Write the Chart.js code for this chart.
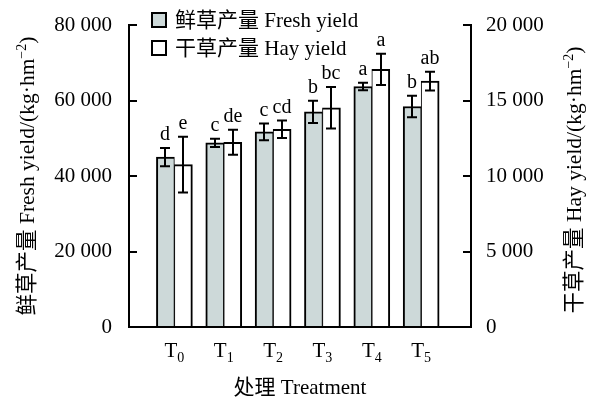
<!DOCTYPE html>
<html>
<head>
<meta charset="utf-8">
<script src="https://cdn.jsdelivr.net/npm/chart.js@4/dist/chart.umd.min.js"></script>
<style>
  body { margin: 0; background: #fff; }
</style>
</head>
<body>
<canvas id="chart" width="593" height="399"></canvas>
<script>
// treatments T0..T5 (subscript digits drawn under the T)
const treatments = ['0', '1', '2', '3', '4', '5']

// fresh yield, left axis (kg/hm2)
const freshYield = [45000, 48800, 51700, 57000, 63700, 58400]
const freshErr = [2400, 1100, 2200, 2950, 970, 2830]
const freshLetters = ['d', 'c', 'c', 'b', 'a', 'b']

// hay yield, right axis (kg/hm2)
const hayYield = [10750, 12230, 13090, 14520, 17060, 16290]
const hayErr = [1850, 830, 580, 1370, 1030, 620]
const hayLetters = ['e', 'de', 'cd', 'bc', 'a', 'ab']

const freshTicks = [0, 20000, 40000, 60000, 80000]
const hayTicks = [0, 5000, 10000, 15000, 20000]

const FONT = '"Liberation Serif", "Noto Sans CJK SC", serif'
const freshColor = '#cdd9d9'

function fmt(v) {
  return String(v).replace(/\B(?=(\d{3})+(?!\d))/g, ' ')
}

// draws pieces of text with their own size / vertical shift, centred on x
function drawRich(ctx, parts, x, y) {
  let w = 0
  parts.forEach(p => {
    ctx.font = p.size + 'px ' + FONT
    p.w = ctx.measureText(p.text).width
    w += p.w
  })
  let cx = x - w / 2
  ctx.textAlign = 'left'
  parts.forEach(p => {
    ctx.font = p.size + 'px ' + FONT
    ctx.fillText(p.text, cx, y + (p.dy || 0))
    cx += p.w
  })
}

const extras = {
  id: 'extras',
  afterDatasetsDraw(chart) {
    const ctx = chart.ctx
    const groups = [
      [0, freshYield, freshErr, freshLetters, chart.scales.y],
      [1, hayYield, hayErr, hayLetters, chart.scales.y1]
    ]
    ctx.save()
    ctx.strokeStyle = '#000'
    ctx.fillStyle = '#000'
    ctx.lineWidth = 2
    groups.forEach(([di, vals, errs, letters, scale]) => {
      chart.getDatasetMeta(di).data.forEach((bar, i) => {
        const x = Math.round(bar.x)
        const top = scale.getPixelForValue(vals[i] + errs[i])
        const bot = scale.getPixelForValue(vals[i] - errs[i])
        ctx.beginPath()
        ctx.moveTo(x, top); ctx.lineTo(x, bot)
        ctx.moveTo(x - 5, top); ctx.lineTo(x + 5, top)
        ctx.moveTo(x - 5, bot); ctx.lineTo(x + 5, bot)
        ctx.stroke()
        ctx.font = '20px ' + FONT
        ctx.textAlign = 'center'
        ctx.textBaseline = 'alphabetic'
        ctx.fillText(letters[i], x, top - 8)
      })
    })
    ctx.restore()
  },
  afterDraw(chart) {
    const ctx = chart.ctx
    const xs = chart.scales.x
    const area = chart.chartArea
    ctx.save()
    ctx.fillStyle = '#000'
    ctx.textBaseline = 'alphabetic'

    // category labels T0..T5
    treatments.forEach((t, i) => {
      drawRich(ctx, [
        { text: 'T', size: 21 },
        { text: t, size: 14, dy: 5 }
      ], xs.getPixelForValue(i), 357)
    })

    // x title
    drawRich(ctx, [{ text: '处理 Treatment', size: 21 }], (area.left + area.right) / 2, 394)

    // y titles, both read bottom to top
    const yTitle = (label, x, y) => {
      ctx.save()
      ctx.translate(x, y)
      ctx.rotate(-Math.PI / 2)
      drawRich(ctx, [
        { text: label + '/(kg·hm', size: 21.5 },
        { text: '−2', size: 14, dy: -8 },
        { text: ')', size: 21.5 }
      ], 0, 0)
      ctx.restore()
    }
    yTitle('鲜草产量 Fresh yield', 34, 176)
    yTitle('干草产量 Hay yield', 581, 180)

    // legend
    const items = [
      { fill: freshColor, text: '鲜草产量 Fresh yield', y: 20 },
      { fill: '#fff', text: '干草产量 Hay yield', y: 48 }
    ]
    items.forEach(it => {
      ctx.fillStyle = it.fill
      ctx.fillRect(152, it.y - 7, 14, 14)
      ctx.strokeStyle = '#000'
      ctx.lineWidth = 2
      ctx.strokeRect(152, it.y - 7, 14, 14)
      ctx.fillStyle = '#000'
      ctx.font = '21px ' + FONT
      ctx.textAlign = 'left'
      ctx.textBaseline = 'middle'
      ctx.fillText(it.text, 175, it.y + 1)
    })
    ctx.restore()
  }
}

const yAxis = (position, ticks, max, padding, width) => ({
  type: 'linear',
  position: position,
  min: 0,
  max: max,
  afterBuildTicks: s => { s.ticks = ticks.map(v => ({ value: v })) },
  afterFit: s => {
    s.width = width
    s.paddingTop = 0
    s.paddingBottom = 0
  },
  border: { display: true, color: '#000', width: 2 },
  grid: {
    drawOnChartArea: false,
    drawTicks: true,
    tickLength: -8,
    color: '#000',
    lineWidth: 2
  },
  ticks: {
    color: '#000',
    padding: padding,
    font: { family: FONT, size: 21 },
    callback: v => fmt(v)
  }
})

new Chart(document.getElementById('chart').getContext('2d'), {
  type: 'bar',
  data: {
    datasets: [
      {
        label: '鲜草产量 Fresh yield',
        data: freshYield.map((v, i) => ({ x: i, y: v })),
        backgroundColor: freshColor,
        borderColor: '#000',
        borderWidth: { left: 2, right: 1, top: 2, bottom: 0 },
        borderSkipped: false,
        barThickness: 18,
        yAxisID: 'y'
      },
      {
        label: '干草产量 Hay yield',
        data: hayYield.map((v, i) => ({ x: i, y: v })),
        backgroundColor: '#fff',
        borderColor: '#000',
        borderWidth: { left: 1, right: 2, top: 2, bottom: 0 },
        borderSkipped: false,
        barThickness: 18,
        yAxisID: 'y1'
      }
    ]
  },
  options: {
    responsive: false,
    animation: false,
    devicePixelRatio: 1,
    layout: { padding: { top: 25, left: 0, right: 0, bottom: 0 } },
    plugins: {
      legend: { display: false },
      tooltip: { enabled: false }
    },
    scales: {
      x: {
        type: 'linear',
        min: -0.92,
        max: 6.01,
        offset: false,
        afterFit: s => { s.height = 72 },
        border: { display: true, color: '#000', width: 2 },
        grid: { display: false },
        ticks: { display: false }
      },
      y: yAxis('left', freshTicks, 80000, 25, 129),
      y1: yAxis('right', hayTicks, 20000, 23, 122)
    }
  },
  plugins: [extras]
})
</script>
</body>
</html>
